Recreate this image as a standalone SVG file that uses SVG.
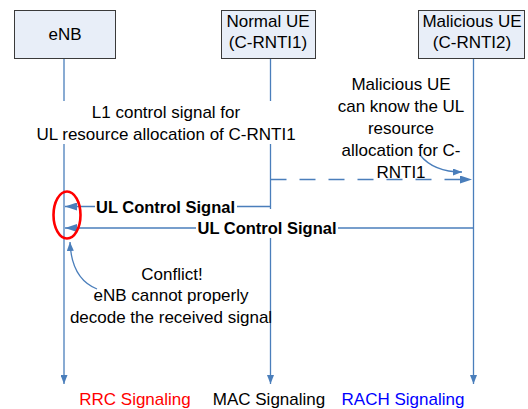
<svg xmlns="http://www.w3.org/2000/svg" width="528" height="409" viewBox="0 0 528 409">
<style>
text{font-family:"Liberation Sans",Arial,sans-serif;font-size:17px;fill:#000;text-anchor:middle}
.box{fill:#E8EEF8;stroke:#3a3a3a;stroke-width:1}
.life{stroke:#4A7EBB;stroke-width:1.3;fill:none}
.msg{stroke:#4A7EBB;stroke-width:1.3;fill:none}
.bold{font-weight:bold;font-size:16.5px}
.bg{fill:#fff}
</style>
<defs>
<marker id="ah" viewBox="0 0 12 8" refX="12" refY="4" markerWidth="12" markerHeight="8" markerUnits="userSpaceOnUse" orient="auto">
<path d="M0,0 L12,4 L0,8 z" fill="#4A7EBB"/>
</marker>
<marker id="ahs" viewBox="0 0 9 7" refX="9" refY="3.5" markerWidth="9" markerHeight="7" markerUnits="userSpaceOnUse" orient="auto">
<path d="M0,0 L9,3.5 L0,7 z" fill="#4A7EBB"/>
</marker>
</defs>

<g id="connectors">
<line class="life" x1="64" y1="58" x2="64" y2="384" marker-end="url(#ahs)"/>
<line class="life" x1="270.5" y1="58" x2="270.5" y2="384" marker-end="url(#ahs)"/>
<line class="life" x1="473.5" y1="58" x2="473.5" y2="384" marker-end="url(#ahs)"/>
<rect class="bg" x="30" y="101" width="270" height="43"/>
<line class="msg" x1="270.5" y1="179.5" x2="472" y2="179.5" stroke-dasharray="16 13" marker-end="url(#ah)"/>
<line class="msg" x1="270.5" y1="206.5" x2="65" y2="206.5" marker-end="url(#ah)"/>
<line class="msg" x1="473.5" y1="228" x2="65" y2="228" marker-end="url(#ah)"/>
<path class="msg" d="M420,155 C428,165 440,172 462,172" marker-end="url(#ahs)"/>
<path class="msg" d="M97,289 C82,283 71,270 70,242" marker-end="url(#ahs)"/>
</g>

<g id="eNB">
<rect class="box" x="14.5" y="10.5" width="101" height="48"/>
<text x="65" y="40">eNB</text>
</g>
<g id="normal-ue">
<rect class="box" x="221.5" y="10.5" width="94" height="48"/>
<text x="268" y="27">Normal UE</text>
<text x="268" y="48">(C-RNTI1)</text>
</g>
<g id="malicious-ue">
<rect class="box" x="418.5" y="10.5" width="106" height="48"/>
<text x="472" y="27">Malicious UE</text>
<text x="472" y="48">(C-RNTI2)</text>
</g>

<g id="l1-label">
<text x="166" y="118">L1 control signal for</text>
<text x="166" y="140">UL resource allocation of C-RNTI1</text>
</g>
<g id="malicious-note">
<text x="401" y="90">Malicious UE</text>
<text x="401" y="112">can know the UL</text>
<text x="401" y="134">resource</text>
<text x="401" y="156">allocation for C-</text>
<text x="401" y="178">RNTI1</text>
</g>
<g id="ul-signal-2">
<rect class="bg" x="196" y="209" width="142" height="29"/>
<text class="bold" x="267" y="233.5">UL Control Signal</text>
</g>
<g id="ul-signal-1">
<rect class="bg" x="95" y="198" width="142" height="18"/>
<text class="bold" x="165.5" y="212.5">UL Control Signal</text>
</g>
<g id="conflict">
<ellipse cx="67" cy="215" rx="13.5" ry="23.5" fill="none" stroke="#FF0000" stroke-width="2.6"/>
</g>
<g id="conflict-note">
<text x="172" y="280">Conflict!</text>
<text x="171" y="301">eNB cannot properly</text>
<text x="171" y="323">decode the received signal</text>
</g>
<g id="legend">
<text x="135" y="405" style="fill:#FF0000">RRC Signaling</text>
<text x="269" y="405">MAC Signaling</text>
<text x="403" y="405" style="fill:#0000FF">RACH Signaling</text>
</g>
</svg>
